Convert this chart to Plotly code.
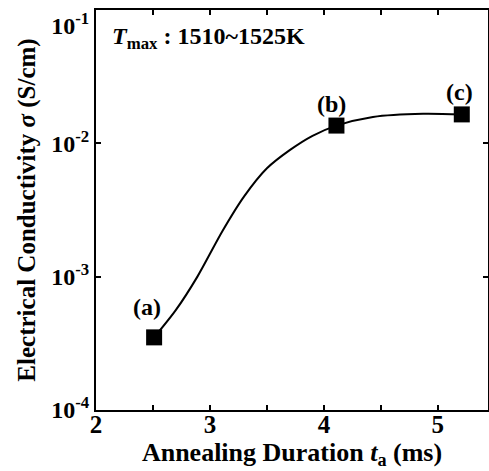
import math
import plotly.graph_objects as go

# Measured samples
sample_labels = ["(a)", "(b)", "(c)"]
duration_ms = [2.51, 4.11, 5.21]
conductivity = [3.5e-4, 1.36e-2, 1.65e-2]

# Guide curve
curve_x = [2.51, 2.70, 2.89, 3.11, 3.30, 3.50, 3.70, 3.90, 4.11, 4.43, 4.87, 5.21]
curve_y = [3.5e-4, 5.6e-4, 1.0e-3, 2.2e-3, 4.0e-3, 6.5e-3, 8.9e-3, 1.14e-2,
           1.36e-2, 1.58e-2, 1.67e-2, 1.65e-2]

x_tickvals = [2, 2.5, 3, 3.5, 4, 4.5, 5]
x_ticktext = ["2", "", "3", "", "4", "", "5"]
y_tickvals = [1e-4, 1e-3, 1e-2, 1e-1]
y_ticktext = ["10<sup>-4</sup>", "10<sup>-3</sup>", "10<sup>-2</sup>",
              "&#160;<br>10<sup>-1</sup>"]

FONT = "Liberation Serif"

fig = go.Figure()
fig.add_trace(go.Scatter(x=curve_x, y=curve_y, mode="lines",
                         line=dict(color="black", width=2, shape="spline", smoothing=0.8),
                         hoverinfo="skip", showlegend=False))
fig.add_trace(go.Scatter(x=duration_ms, y=conductivity, mode="markers",
                         marker=dict(symbol="square", size=16, color="black"),
                         showlegend=False))

shifts = [(-7, 30), (-5, 22), (-2, 22)]
for lab, xv, yv, (dx, dy) in zip(sample_labels, duration_ms, conductivity, shifts):
    fig.add_annotation(x=xv, y=math.log10(yv), xref="x", yref="y", text=lab,
                       showarrow=False, xshift=dx, yshift=dy,
                       font=dict(family=FONT, size=24, color="black", weight="bold"))

fig.add_annotation(x=0.036, y=0.93, xref="paper", yref="paper", xanchor="left", yanchor="middle",
                   text="<i>T</i><sub>max</sub> : 1510~1525K", showarrow=False,
                   font=dict(family=FONT, size=24, color="black", weight="bold"))

fig.update_layout(
    width=489, height=471,
    margin=dict(l=96, r=1, t=10, b=61, autoexpand=False),
    paper_bgcolor="white", plot_bgcolor="white",
    font=dict(family=FONT, size=24, color="black", weight="bold"),
    xaxis=dict(range=[2, 5.44], tickvals=x_tickvals, ticktext=x_ticktext,
               ticks="inside", ticklen=5, tickwidth=1.5, tickcolor="black",
               ticklabelstandoff=-9,
               tickfont=dict(family=FONT, size=25, weight="bold"),
               showline=True, linewidth=2, linecolor="black", mirror="ticks",
               showgrid=False, zeroline=False,
               title=dict(text="Annealing Duration <i>t</i><sub>a</sub> (ms)", standoff=4,
                          font=dict(family=FONT, size=26, weight="bold"))),
    yaxis=dict(type="log", range=[-4.001, -0.999], tickvals=y_tickvals, ticktext=y_ticktext,
               ticks="inside", ticklen=5, tickwidth=1.5, tickcolor="black",
               ticklabeloverflow="allow",
               tickfont=dict(family=FONT, size=24, weight="bold"),
               showline=True, linewidth=2, linecolor="black", mirror="ticks",
               showgrid=False, zeroline=False,
               title=dict(text="Electrical Conductivity <i>σ</i> (S/cm)", standoff=8,
                          font=dict(family=FONT, size=25, weight="bold"))),
)

fig.write_html("out.html")
